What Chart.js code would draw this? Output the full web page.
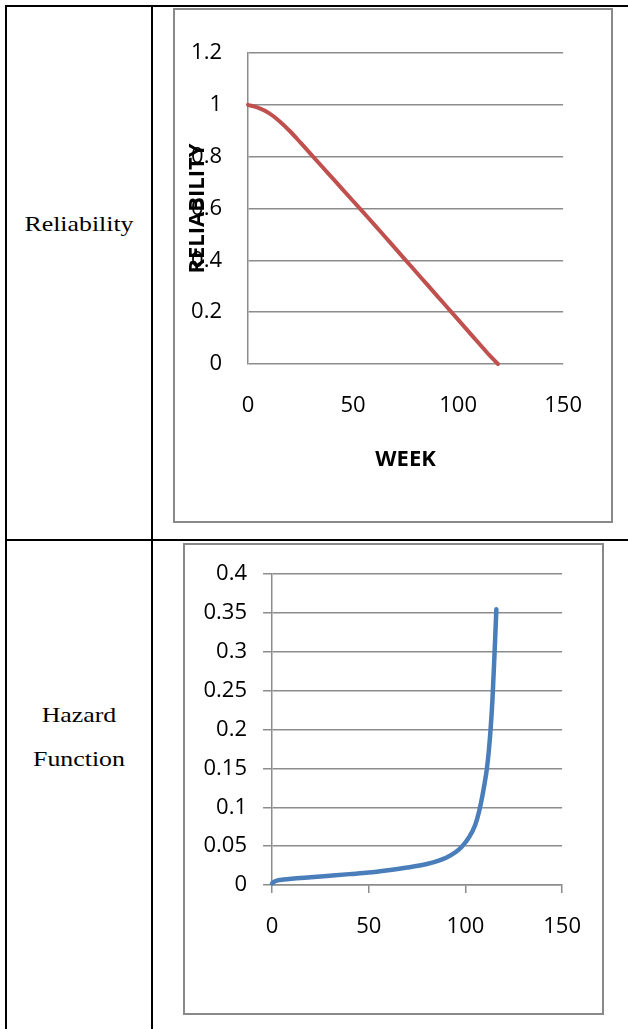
<!DOCTYPE html>
<html>
<head>
<meta charset="utf-8">
<title>Reliability and Hazard Function</title>
<script src="https://cdn.jsdelivr.net/npm/chart.js@4.4.1/dist/chart.umd.min.js"></script>
<style>
  html, body { margin: 0; padding: 0; background: #fff; }
  body { width: 628px; height: 1029px; position: relative; overflow: hidden; }
  .rule { position: absolute; background: #000; }
  .cell-label {
    position: absolute; left: 7px; width: 144px; text-align: center;
    font-family: 'Liberation Serif', 'Times New Roman', serif;
    font-size: 21px; line-height: 21px; color: #000;
    transform: scaleX(1.23);
  }
  .chart-box { position: absolute; border: 2px solid #898989; background: #fff; }
  .chart-box canvas { display: block; }
</style>
</head>
<body>

<!-- table rules -->
<div class="rule" style="left:5px; top:5px; width:623px; height:2px;"></div>
<div class="rule" style="left:5px; top:539px; width:623px; height:2px;"></div>
<div class="rule" style="left:5px; top:5px; width:2px; height:1024px;"></div>
<div class="rule" style="left:151px; top:5px; width:2px; height:1024px;"></div>

<div class="cell-label" style="top:214px;">Reliability</div>
<div class="cell-label" style="top:705px;">Hazard</div>
<div class="cell-label" style="top:749px;">Function</div>

<div class="chart-box" style="left:173px; top:8px;">
  <canvas id="reliabilityChart" width="436" height="511"></canvas>
</div>
<div class="chart-box" style="left:183px; top:543px;">
  <canvas id="hazardChart" width="417" height="468"></canvas>
</div>

<script>
/* ---- data ---- */
var relWeeks  = [0, 5, 10, 15, 20, 25, 30, 35, 40, 45, 50, 55, 60, 65, 70, 75, 80, 85, 90, 95, 100, 105, 110, 115, 119];
var relValues = [1.0, 0.988, 0.968, 0.937, 0.898, 0.854, 0.809, 0.764, 0.719, 0.674, 0.629, 0.584, 0.539, 0.493, 0.447, 0.401, 0.355, 0.309, 0.263, 0.217, 0.171, 0.125, 0.079, 0.033, 0];

var hazWeeks  = [0, 1, 3, 6, 10, 20, 30, 40, 50, 60, 70, 80, 85, 90, 95, 98, 102, 105, 107, 109, 111, 112, 113, 114, 115, 115.5, 116];
var hazValues = [0.002, 0.004, 0.006, 0.007, 0.008, 0.010, 0.012, 0.014, 0.016, 0.019, 0.0225, 0.027, 0.0305, 0.035, 0.0425, 0.049, 0.062, 0.077, 0.094, 0.118, 0.148, 0.17, 0.20, 0.24, 0.295, 0.325, 0.355];

var weekTicks = [0, 50, 100, 150];
var relTicks  = [0, 0.2, 0.4, 0.6, 0.8, 1, 1.2];
var relTickLabels = ['0', '0.2', '0.4', '0.6', '0.8', '1', '1.2'];
var hazTicks  = [0, 0.05, 0.1, 0.15, 0.2, 0.25, 0.3, 0.35, 0.4];
var hazTickLabels = ['0', '0.05', '0.1', '0.15', '0.2', '0.25', '0.3', '0.35', '0.4'];

var GRID = '#8c8c8c';

Chart.defaults.font.family = "'Open Sans', sans-serif";
Chart.defaults.font.size = 22;
Chart.defaults.color = '#000';
Chart.defaults.animation = false;
Chart.defaults.plugins.legend.display = false;
Chart.defaults.plugins.tooltip.enabled = false;

function toPoints(xs, ys) {
  return xs.map(function (x, i) { return { x: x, y: ys[i] }; });
}

// fixed tick sets + labels from the arrays above
function fixedTicks(values, labels) {
  return {
    afterBuildTicks: function (scale) {
      scale.ticks = values.map(function (v) { return { value: v }; });
    },
    callback: function (v) {
      var i = values.indexOf(+(+v).toFixed(4));
      return i >= 0 ? labels[i] : '';
    }
  };
}

/* ---- Reliability ---- */
var relY = fixedTicks(relTicks, relTickLabels);
var relX = fixedTicks(weekTicks, weekTicks.map(String));

new Chart(document.getElementById('reliabilityChart'), {
  type: 'line',
  data: {
    datasets: [{
      data: toPoints(relWeeks, relValues),
      borderColor: '#C0504D',
      borderWidth: 4,
      borderCapStyle: 'round',
      pointRadius: 0,
      cubicInterpolationMode: 'monotone',
      clip: false
    }]
  },
  options: {
    responsive: false,
    devicePixelRatio: 1,
    layout: { padding: { top: 43, right: 34, left: 0, bottom: 0 } },
    scales: {
      x: {
        type: 'linear', min: 0, max: 150,
        afterBuildTicks: relX.afterBuildTicks,
        afterFit: function (s) { s.height = 157; },
        grid: { display: false, drawTicks: false },
        border: { display: false },
        ticks: { padding: 29, maxRotation: 0, callback: relX.callback },
        title: {
          display: true, text: 'WEEK',
          font: { weight: 'bold', size: 22 },
          padding: { top: 0, bottom: 48 }
        }
      },
      y: {
        min: 0, max: 1.2,
        afterBuildTicks: relY.afterBuildTicks,
        afterFit: function (s) { s.width = 73; },
        grid: { color: GRID, lineWidth: 1.5, drawTicks: false },
        border: { display: true, color: GRID, width: 1.5 },
        ticks: { padding: 26, callback: relY.callback },
        title: {
          display: true, text: 'RELIABILITY',
          font: { weight: 'bold', size: 22 },
          padding: { top: 10, bottom: 0 }
        }
      }
    }
  }
});

/* ---- Hazard function ---- */
var hazY = fixedTicks(hazTicks, hazTickLabels);
var hazX = fixedTicks(weekTicks, weekTicks.map(String));

new Chart(document.getElementById('hazardChart'), {
  type: 'line',
  data: {
    datasets: [{
      data: toPoints(hazWeeks, hazValues),
      borderColor: '#4A7EBB',
      borderWidth: 4.5,
      borderCapStyle: 'round',
      pointRadius: 0,
      cubicInterpolationMode: 'monotone',
      clip: false
    }]
  },
  options: {
    responsive: false,
    devicePixelRatio: 1,
    layout: { padding: { top: 21, right: 35, left: 0, bottom: 0 } },
    scales: {
      x: {
        type: 'linear', min: 0, max: 150,
        afterBuildTicks: hazX.afterBuildTicks,
        afterFit: function (s) { s.height = 128; },
        grid: { drawOnChartArea: false, drawTicks: true, tickLength: 8, color: GRID, lineWidth: 1.5 },
        border: { display: true, color: GRID, width: 1.5 },
        ticks: { padding: 21, maxRotation: 0, callback: hazX.callback }
      },
      y: {
        min: 0, max: 0.4,
        afterBuildTicks: hazY.afterBuildTicks,
        afterFit: function (s) { s.width = 87; },
        grid: { color: GRID, lineWidth: 1.5, drawTicks: true, tickLength: 9 },
        border: { display: true, color: GRID, width: 1.5 },
        ticks: { padding: 16, callback: hazY.callback }
      }
    }
  }
});
</script>
</body>
</html>
